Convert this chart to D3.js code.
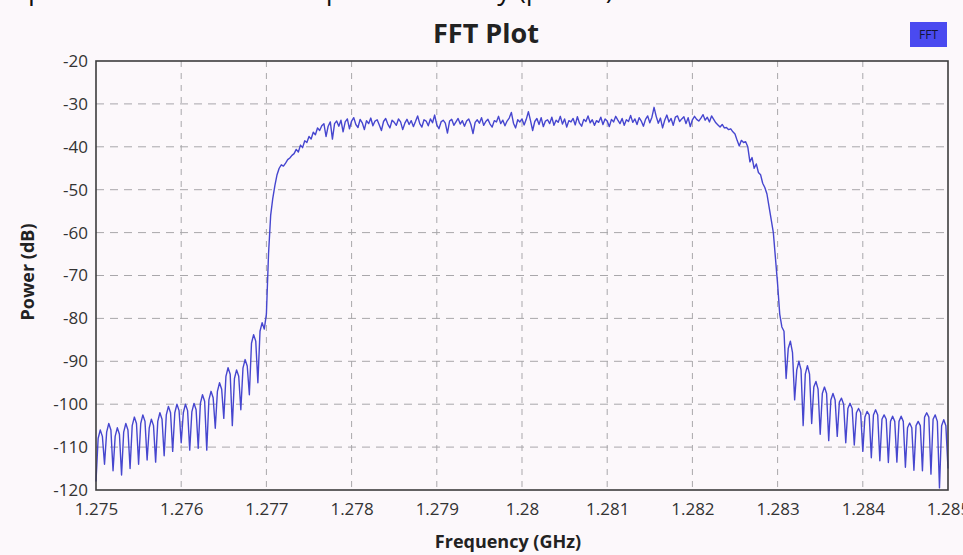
<!DOCTYPE html>
<html>
<head>
<meta charset="utf-8">
<script src="https://cdn.jsdelivr.net/npm/d3@7"></script>
<style>
body { margin: 0; background: #fcf8fb; overflow: hidden; }
text { font-family: "Open Sans", "DejaVu Sans", sans-serif; }
</style>
</head>
<body>
<script>
/*FFT bins*/
var freqStart = 1.275
var binStep = 0.000025

var lowSide = [
	-118, -108, -106, -107.5,   -114, -106.5, -104.5, -106,   -115.5, -107.5, -105.5, -107,
	-116.5, -106.5, -104.5, -106,   -115, -105, -103, -104.5,   -114, -104.5, -102.5, -104,
	-113, -105.5, -103.5, -105,   -113.5, -104, -102, -103.5,   -112, -102.5, -100.5, -102,
	-111, -102, -100, -101.5,   -109, -102, -100, -101.5,   -110.7, -101.8, -99.8, -101.3,
	-110.3, -99.8, -97.8, -99.3,   -110.7, -99, -97, -98.5,   -105.6, -97, -95, -96.5,
	-103.3, -93.5, -91.5, -93,   -105, -94, -92, -93.5,   -101.3, -91.6, -89.6, -91.1,
	-97.8, -85.8, -83.8, -85.3,   -95, -83, -81, -82.5
]

var riseEdge = [
	-79, -65, -56, -52, -49, -46.5, -45, -44.2, -44.5, -43.8, -43, -42.6, -42, -41.6, -40.6,
	-41.2, -39.6, -40.2, -38.6, -39, -37.6, -38.2, -36.6, -37.2, -35.6, -36.2, -35.1, -34.6,
	-37.6, -35.2, -34.2, -38.2, -34.6
]

var passBand = [
	-34.0, -35.2, -33.8, -36.5, -34.2, -33.5, -35.8, -34.0, -33.2, -34.8,
	-35.5, -33.6, -34.4, -36.0, -33.9, -34.6, -33.3, -35.1, -34.0, -33.7,
	-34.9, -36.2, -34.1, -33.4, -34.7, -35.6, -33.8, -34.3, -35.0, -33.5,
	-34.2, -36.0, -34.5, -33.6, -34.8, -33.9, -35.3, -34.1, -32.8, -34.6,
	-35.4, -33.7, -34.0, -35.1, -33.5, -34.4, -32.6, -34.9, -35.8, -34.2,
	-33.8, -34.5, -36.8, -34.0, -33.6, -35.0, -34.2, -33.4, -34.7, -33.9,
	-35.2, -34.0, -33.5, -34.8, -36.9, -34.3, -33.7, -34.5, -33.2, -35.0,
	-34.1, -33.6, -34.7, -35.4, -33.9, -34.2, -32.9, -34.6, -33.8, -35.1,
	-34.0, -33.3, -32.0, -34.5, -35.6, -33.7, -34.2, -33.5, -34.9, -33.6,
	-31.8, -33.9, -36.2, -34.1, -33.4, -34.8, -33.2, -35.3, -34.0, -33.7,
	-34.6, -33.1, -35.0, -33.8, -34.3, -32.9, -34.7, -33.5, -35.4, -33.9,
	-34.2, -33.4, -34.9, -33.0, -34.5, -35.2, -33.6, -34.1, -32.8, -34.4,
	-33.7, -35.0, -33.9, -34.3, -33.1, -34.8, -33.5, -34.0, -35.3, -33.6,
	-34.2, -32.9, -33.8, -34.6, -33.4, -35.0, -33.7, -34.1, -32.7, -34.3,
	-33.5, -34.8, -33.2, -34.0, -35.2, -33.6, -32.8, -34.4, -33.1, -30.8,
	-32.9, -34.5, -33.3, -35.6, -33.8, -32.6, -34.2, -33.4, -35.0, -33.1,
	-32.8, -34.1, -33.5, -33.0, -34.6, -33.2, -35.3, -33.7, -32.9, -33.6,
	-34.0, -33.3, -32.5, -33.8, -33.1, -34.2, -32.8, -33.6, -34.4, -34.9,
	-35.4, -34.8, -35.6
]

var fallEdge = [
	-35.5, -36, -35.8, -36.5, -37, -38.5, -39.8, -38.5, -39, -38.8, -40, -43.5, -42.5,
	-45, -44, -46, -46.5, -48.5, -49.5, -51, -54, -57, -60, -66, -72
]

var highSide = [
	-79, -82, -83,   -94, -87, -85.3, -88,   -99, -92, -90, -92,   -105, -93, -91, -93,
	-104.5, -96, -94.7, -96.5,   -107, -97.5, -96, -97.5,   -108.5, -99, -97.5, -99,
	-107.5, -99.5, -98.6, -100,   -109, -101, -99.8, -101,   -109.5, -102, -101, -102,
	-111, -103, -101.7, -102.5,   -112.5, -102.5, -101.3, -102.5,   -113.2, -103.5, -102.5, -103.5,
	-113.6, -104, -102.8, -104,   -113.5, -104, -102.8, -104,   -114.7, -105.5, -104.4, -105.5,
	-115.4, -105, -104, -105,   -115.5, -103, -102, -103,   -116.3, -103.5, -102.5, -104,
	-119.5, -105, -103.6, -105,   -115
]

var xTicks = [1.275, 1.276, 1.277, 1.278, 1.279, 1.28, 1.281, 1.282, 1.283, 1.284, 1.285]
var xTickLabels = ["1.275", "1.276", "1.277", "1.278", "1.279", "1.28", "1.281", "1.282", "1.283", "1.284", "1.285"]
var yTicks = [-20, -30, -40, -50, -60, -70, -80, -90, -100, -110, -120]
var yTickLabels = ["-20", "-30", "-40", "-50", "-60", "-70", "-80", "-90", "-100", "-110", "-120"]

var powerVals = lowSide.concat(riseEdge, passBand, fallEdge, highSide)
var fftData = powerVals.map(function(v, i){
	return {freq: freqStart + i * binStep, power: v}
})

var width = 963, height = 555
var plotLeft = 96, plotRight = 948, plotTop = 61, plotBottom = 490

var svg = d3.select("body").append("svg")
			.attr("width", width)
			.attr("height", height)

svg.append("rect")
	.attr("width", width)
	.attr("height", height)
	.attr("fill", "#fcf8fb")

/*bit of the document text sitting above the screenshot, only descenders show*/
svg.append("text")
	.attr("x", 4)
	.attr("y", -1)
	.attr("font-family", "Liberation Serif")
	.attr("font-size", 27)
	.attr("fill", "#111")
	.text("Input of the whole band spectral density (power)")

var xScale = d3.scaleLinear()
				.domain([1.275, 1.285])
				.range([plotLeft, plotRight])

var yScale = d3.scaleLinear()
				.domain([-120, -20])
				.range([plotBottom, plotTop])

/*dashed grid*/
var grid = svg.append("g").attr("class", "grid")

grid.selectAll(".vgrid")
	.data(xTicks.slice(1, -1))
	.enter()
		.append("line")
		.attr("x1", function(d){return xScale(d)})
		.attr("x2", function(d){return xScale(d)})
		.attr("y1", plotTop)
		.attr("y2", plotBottom)
		.attr("stroke", "#a9a7ab")
		.attr("stroke-width", 1)
		.attr("stroke-dasharray", "6,6")

grid.selectAll(".hgrid")
	.data(yTicks.slice(1, -1))
	.enter()
		.append("line")
		.attr("x1", plotLeft)
		.attr("x2", plotRight)
		.attr("y1", function(d){return yScale(d)})
		.attr("y2", function(d){return yScale(d)})
		.attr("stroke", "#a9a7ab")
		.attr("stroke-width", 1)
		.attr("stroke-dasharray", "8,6")

/*trace*/
var line = d3.line()
			.x(function(d){return xScale(d.freq)})
			.y(function(d){return yScale(d.power)})

svg.append("path")
	.datum(fftData)
	.attr("d", line)
	.attr("fill", "none")
	.attr("stroke", "#4646cf")
	.attr("stroke-width", 1.4)
	.attr("stroke-linejoin", "round")

/*frame*/
svg.append("rect")
	.attr("x", plotLeft)
	.attr("y", plotTop)
	.attr("width", plotRight - plotLeft)
	.attr("height", plotBottom - plotTop)
	.attr("fill", "none")
	.attr("stroke", "#3c3c3e")
	.attr("stroke-width", 1.6)

/*axes, ticks hidden, labels only*/
var xAxis = d3.axisBottom(xScale)
				.tickValues(xTicks)
				.tickSize(0)
				.tickPadding(10)
				.tickFormat(function(d, i){return xTickLabels[i]})

var yAxis = d3.axisLeft(yScale)
				.tickValues(yTicks)
				.tickSize(0)
				.tickPadding(8)
				.tickFormat(function(d, i){return yTickLabels[i]})

var gx = svg.append("g")
	.attr("transform", "translate(0, " + plotBottom + ")")
	.call(xAxis)

var gy = svg.append("g")
	.attr("transform", "translate(" + plotLeft + ", 0)")
	.call(yAxis)

svg.selectAll(".domain").remove()
svg.selectAll(".tick text")
	.attr("font-family", "Open Sans")
	.attr("font-size", 17)
	.attr("fill", "#333")

gx.selectAll(".tick text").attr("dy", "0.9em")

/*titles*/
svg.append("text")
	.attr("x", 486)
	.attr("y", 43)
	.attr("text-anchor", "middle")
	.attr("font-size", 27)
	.attr("font-weight", "bold")
	.attr("fill", "#222")
	.text("FFT Plot")

svg.append("text")
	.attr("x", 508)
	.attr("y", 548)
	.attr("text-anchor", "middle")
	.attr("font-size", 18)
	.attr("font-weight", "bold")
	.attr("fill", "#222")
	.text("Frequency (GHz)")

svg.append("text")
	.attr("transform", "translate(34, 272) rotate(-90)")
	.attr("text-anchor", "middle")
	.attr("font-size", 18)
	.attr("font-weight", "bold")
	.attr("fill", "#222")
	.text("Power (dB)")

/*legend*/
svg.append("rect")
	.attr("x", 910)
	.attr("y", 22)
	.attr("width", 37)
	.attr("height", 25)
	.attr("fill", "#4a4af0")

svg.append("text")
	.attr("x", 928.5)
	.attr("y", 39)
	.attr("text-anchor", "middle")
	.attr("font-size", 12)
	.attr("fill", "#14143a")
	.text("FFT")
</script>
</body>
</html>
